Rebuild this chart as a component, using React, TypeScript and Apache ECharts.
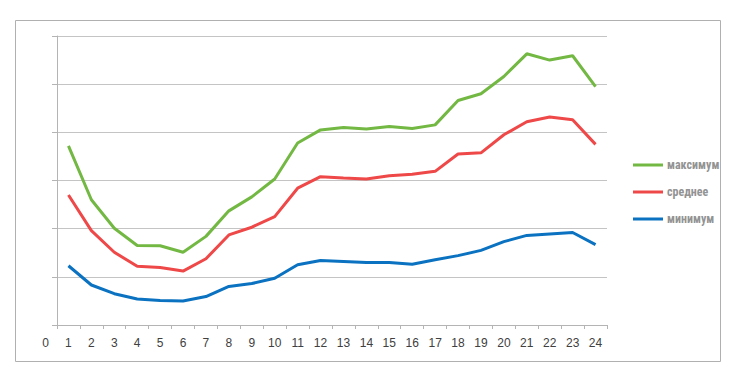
import React, { useEffect, useRef } from "react";
import * as echarts from "echarts";

const hours = ["1","2","3","4","5","6","7","8","9","10","11","12","13","14","15","16","17","18","19","20","21","22","23","24"];
const zeroLabel = "0";
const maxValues = [3.72,2.60,2.01,1.65,1.645,1.51,1.84,2.37,2.66,3.03,3.78,4.05,4.10,4.07,4.12,4.08,4.155,4.66,4.80,5.16,5.63,5.50,5.59,4.95];
const avgValues = [2.70,1.96,1.51,1.22,1.195,1.12,1.375,1.87,2.03,2.25,2.84,3.08,3.05,3.03,3.10,3.13,3.19,3.55,3.575,3.95,4.22,4.32,4.26,3.75];
const minValues = [1.23,0.83,0.65,0.54,0.51,0.50,0.59,0.80,0.86,0.97,1.25,1.34,1.32,1.30,1.30,1.26,1.355,1.44,1.55,1.73,1.86,1.89,1.92,1.67];
const seriesNames = ["максимум", "среднее", "минимум"];
const seriesColors = ["#72b843", "#ef4848", "#0a72c0"];

export default function App() {
  const ref = useRef<HTMLDivElement>(null);
  useEffect(() => {
    if (!ref.current) return;
    const chart = echarts.init(ref.current, undefined, { renderer: "svg" });
    const data = [maxValues, avgValues, minValues];
    chart.setOption({
      animation: false,
      backgroundColor: "#ffffff",
      grid: { left: 57, right: 128, top: 36, bottom: 52 },
      legend: {
        orient: "vertical",
        left: 628,
        top: 154,
        itemWidth: 30,
        itemHeight: 3,
        itemGap: 15,
        icon: "rect",
        data: seriesNames,
        textStyle: {
          color: "#939393",
          fontWeight: "bold",
          fontSize: 12,
          padding: [0, 0, 0, -1],
          fontFamily: "'Liberation Sans Narrow', 'Roboto Condensed', Roboto, sans-serif",
        },
      },
      xAxis: {
        type: "category",
        data: hours,
        boundaryGap: true,
        axisLine: { lineStyle: { color: "#b4b4b4", width: 1 } },
        axisTick: { show: true, length: 4, lineStyle: { color: "#b4b4b4" } },
        axisLabel: {
          color: "#404040",
          fontSize: 12,
          fontFamily: "'Liberation Sans', Arial, sans-serif",
          margin: 12,
        },
        splitLine: { show: false },
      },
      yAxis: {
        type: "value",
        min: 0,
        max: 6,
        interval: 1,
        axisLine: { show: true, lineStyle: { color: "#b4b4b4", width: 1 } },
        axisTick: { show: true, length: 5, lineStyle: { color: "#b4b4b4" } },
        axisLabel: { show: false },
        splitLine: { show: true, lineStyle: { color: "#c4c4c4", width: 1 } },
      },
      series: seriesNames.map((name, i) => ({
        name,
        type: "line",
        data: data[i],
        symbol: "none",
        lineStyle: { color: seriesColors[i], width: 3 },
        itemStyle: { color: seriesColors[i] },
      })),
    });
    const p0 = chart.convertToPixel({ xAxisIndex: 0 }, hours[0]) as number;
    const p1 = chart.convertToPixel({ xAxisIndex: 0 }, hours[1]) as number;
    const yBase = chart.convertToPixel({ yAxisIndex: 0 }, 0) as number;
    chart.setOption({
      graphic: [
        {
          type: "rect",
          shape: { x: 15.5, y: 20.5, width: 705, height: 341 },
          style: { fill: "none", stroke: "#b0b0b0", lineWidth: 1 },
          silent: true,
        },
        {
          type: "text",
          x: p0 - (p1 - p0),
          y: yBase + 12,
          style: {
            text: zeroLabel,
            fill: "#404040",
            fontSize: 12,
            fontFamily: "'Liberation Sans', Arial, sans-serif",
            textAlign: "center",
            textVerticalAlign: "top",
          },
        },
      ],
    });
    return () => chart.dispose();
  }, []);
  return <div ref={ref} style={{ width: 735, height: 377, margin: -8 }} />;
}
